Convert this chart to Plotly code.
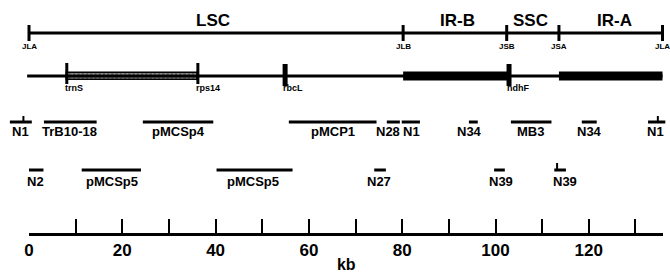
import plotly.graph_objects as go

# ---------------- data (kb) ----------------
junction_labels = ["JLA", "JLB", "JSB", "JSA", "JLA"]
junction_kb = [0.0, 80.2, 102.4, 113.6, 135.8]

region_labels = ["LSC", "IR-B", "SSC", "IR-A"]
region_label_kb = [39.5, 91.8, 107.6, 125.6]

gene_labels = ["trnS", "rps14", "rbcL", "ndhF"]
gene_kb = [8.1, 36.2, 54.9, 102.9]

row1_names = ["N1", "TrB10-18", "pMCSp4", "pMCP1", "N28", "N1", "N34", "MB3", "N34", "N1"]
row1_start = [-4.1, 3.2, 24.4, 55.7, 76.7, 79.9, 94.3, 103.3, 118.5, 132.7]
row1_end = [0.6, 14.5, 39.5, 74.5, 79.5, 83.8, 96.2, 112.0, 121.7, 136.4]
row1_label_kb = [-1.8, 8.7, 32.0, 65.2, 77.0, 81.9, 94.5, 107.4, 120.2, 134.2]
row1_marks = [-1.2, 134.8]

row2_names = ["N2", "pMCSp5", "pMCSp5", "N27", "N39", "N39"]
row2_start = [0.0, 11.3, 40.2, 74.0, 99.7, 112.6]
row2_end = [3.1, 24.0, 56.5, 76.5, 102.0, 115.1]
row2_label_kb = [1.3, 17.7, 48.1, 75.1, 101.2, 114.8]
row2_marks = [113.2]

scale_max = 136
scale_labels = [0, 20, 40, 60, 80, 100, 120]

# ---------------- layout helpers (pixels) ----------------
W, H = 670, 273
PXKB = 4.665
ORIGIN_PX = 29
R0 = -ORIGIN_PX / PXKB
R1 = R0 + W / PXKB
Y_AXIS = 233
Y_TOP, Y_GENE, Y_ROW1, Y_ROW2 = 33, 76, 122, 170
BLACK = "black"
FONT = "Liberation Sans"


def segs(starts, ends, y):
    xs, ys = [], []
    for a, b in zip(starts, ends):
        xs += [a, b, None]
        ys += [y, y, None]
    return xs, ys


def vticks(xs_in, y0, y1):
    xs, ys = [], []
    for x in xs_in:
        xs += [x, x, None]
        ys += [y0, y1, None]
    return xs, ys


fig = go.Figure()


def line(xs, ys, w):
    fig.add_trace(go.Scatter(x=xs, y=ys, mode="lines", line=dict(color=BLACK, width=w),
                             hoverinfo="skip", showlegend=False, xaxis="x", yaxis="y"))


# top junction map
line([junction_kb[0], junction_kb[-1]], [Y_TOP, Y_TOP], 3)
line(*vticks(junction_kb, Y_TOP - 8, Y_TOP + 8), 3)

# gene map baseline
line([junction_kb[0] - 0.4, junction_kb[-1]], [Y_GENE, Y_GENE], 3)
# hatched region trnS - rps14
fig.add_trace(go.Bar(x=[gene_kb[1] - gene_kb[0]], base=[gene_kb[0]], y=[Y_GENE], orientation="h",
                     width=7, marker=dict(color="white", line=dict(color=BLACK, width=1.5),
                                          pattern=dict(shape="x", fgcolor=BLACK, bgcolor="#cfcfcf",
                                                       size=3, solidity=0.7)),
                     hoverinfo="skip", showlegend=False, xaxis="x", yaxis="y"))
# inverted repeats thick
line([junction_kb[1], gene_kb[3], None, junction_kb[3], junction_kb[4]],
     [Y_GENE, Y_GENE, None, Y_GENE, Y_GENE], 9)
# gene markers
line(*vticks(gene_kb[:2], Y_GENE - 13, Y_GENE + 8), 3)
line(*vticks(gene_kb[2:], Y_GENE - 12, Y_GENE + 10), 5)

# clone rows
line(*segs(row1_start, row1_end, Y_ROW1), 3)
line(*vticks(row1_marks, Y_ROW1 - 6, Y_ROW1), 2)
line(*segs(row2_start, row2_end, Y_ROW2), 3)
line(*vticks(row2_marks, Y_ROW2 - 7, Y_ROW2), 2)

# invisible trace for scale axis
fig.add_trace(go.Scatter(x=[0, scale_max], y=[None, None], mode="lines", showlegend=False,
                         hoverinfo="skip", xaxis="x2", yaxis="y"))

ann = []


def label(x, y, text, size, xanchor="center", xshift=0, xref="x"):
    ann.append(dict(x=x, y=y, xref=xref, yref="y", text=text, showarrow=False,
                    xanchor=xanchor, yanchor="middle", xshift=xshift,
                    font=dict(family=FONT, size=size, color=BLACK, weight="bold")))


for t, x in zip(region_labels, region_label_kb):
    label(x, 20, t, 17)
for t, x in zip(junction_labels, junction_kb):
    label(x, 46, t, 8)
for t, x in zip(gene_labels, gene_kb):
    label(x, 88, t, 9, xanchor="left", xshift=-4)
for t, x in zip(row1_names, row1_label_kb):
    label(x, 131.5, t, 13)
for t, x in zip(row2_names, row2_label_kb):
    label(x, 181, t, 13)

fig.update_layout(
    width=W, height=H,
    margin=dict(l=0, r=0, t=0, b=H - Y_AXIS, autoexpand=False),
    paper_bgcolor="white", plot_bgcolor="rgba(0,0,0,0)",
    annotations=ann,
    bargap=0,
    xaxis=dict(range=[R0, R1], domain=[0, 1], visible=False, fixedrange=True, automargin=False),
    xaxis2=dict(range=[0, scale_max], domain=[ORIGIN_PX / W, (ORIGIN_PX + scale_max * PXKB) / W],
                anchor="y", showline=True, linecolor=BLACK, linewidth=3, automargin=False,
                ticks="inside", ticklen=14, tickwidth=2, tickcolor=BLACK,
                tickvals=scale_labels, ticktext=[str(v) for v in scale_labels],
                minor=dict(tickvals=list(range(0, scale_max, 10)), ticks="inside", ticklen=14,
                           tickwidth=2, tickcolor=BLACK),
                tickfont=dict(family=FONT, size=17, color=BLACK, weight="bold"),
                showgrid=False, zeroline=False,
                title=dict(text="kb", font=dict(family=FONT, size=16, color=BLACK, weight="bold"),
                           standoff=6)),
    yaxis=dict(range=[Y_AXIS, 0], domain=[0, 1], visible=False, fixedrange=True, automargin=False),
)

fig.write_html("out.html", config={"displayModeBar": False},
               post_script="document.body.style.margin='0';document.body.style.padding='0';")
